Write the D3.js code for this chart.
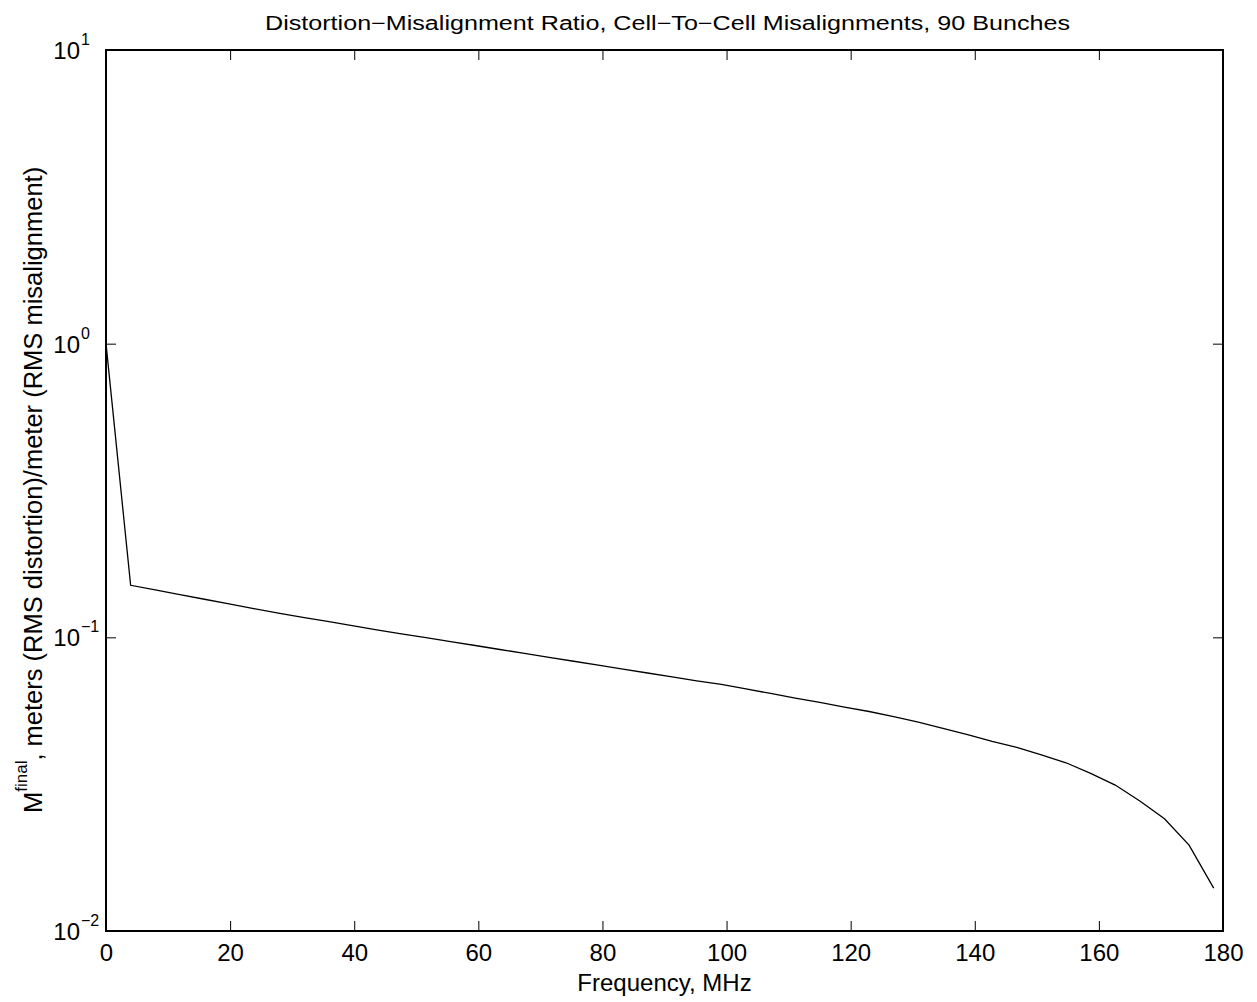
<!DOCTYPE html>
<html><head><meta charset="utf-8">
<script src="https://cdn.jsdelivr.net/npm/d3@7"></script>
<style>body{margin:0;background:#fff}svg{display:block}text{font-family:"Liberation Sans",Arial,sans-serif;fill:#000}</style>
</head><body>
<script>
const frequency = [0, 3.97, 7.93, 11.9, 15.87, 19.83, 23.8, 27.77, 31.73, 35.7, 39.67, 43.63, 47.6, 51.57, 55.53, 59.5, 63.47, 67.43, 71.4, 75.37, 79.33, 83.3, 87.27, 91.23, 95.2, 99.17, 103.13, 107.1, 111.07, 115.03, 119.0, 122.97, 126.93, 130.9, 134.87, 138.83, 142.8, 146.77, 150.73, 154.7, 158.67, 162.63, 166.6, 170.57, 174.53, 178.5];
const ratio = [1.0, 0.1504, 0.1450, 0.1398, 0.1348, 0.1299, 0.1253, 0.1209, 0.1170, 0.1133, 0.1097, 0.1061, 0.1027, 0.0997, 0.0967, 0.0938, 0.0909, 0.0882, 0.0855, 0.0829, 0.0804, 0.0779, 0.0756, 0.0733, 0.0711, 0.0691, 0.0667, 0.0644, 0.0621, 0.0600, 0.0579, 0.0559, 0.0537, 0.0514, 0.0490, 0.0466, 0.0442, 0.0422, 0.0398, 0.0374, 0.0344, 0.0314, 0.0277, 0.0241, 0.0196, 0.0140];
const xTicks = [0, 20, 40, 60, 80, 100, 120, 140, 160, 180];
const yTicks = [1e-2, 1e-1, 1, 10];
const yTickExp = ["\u22122", "\u22121", "0", "1"];
const titleText = "Distortion\u2212Misalignment Ratio, Cell\u2212To\u2212Cell Misalignments, 90 Bunches";
const xLabelText = "Frequency, MHz";

const W = 1257, H = 1002;
const L = 106, R = 1223, T = 50, B = 931;
const svg = d3.select("body").append("svg").attr("width", W).attr("height", H);
const x = d3.scaleLinear().domain([0, 180]).range([L, R]);
const y = d3.scaleLog().domain([1e-2, 10]).range([B, T]);

// data line
svg.append("path").datum(frequency.map((f, i) => [f, ratio[i]]))
  .attr("fill", "none").attr("stroke", "#000").attr("stroke-width", 1.3)
  .attr("d", d3.line().x(d => x(d[0])).y(d => y(d[1])));

const tl = 10;
const xb = svg.append("g").attr("transform", `translate(0,${B})`)
  .call(d3.axisBottom(x).tickValues(xTicks).tickSizeInner(-tl).tickSizeOuter(0));
const xt = svg.append("g").attr("transform", `translate(0,${T})`)
  .call(d3.axisTop(x).tickValues(xTicks).tickSizeInner(-tl).tickSizeOuter(0).tickFormat(""));
const yl = svg.append("g").attr("transform", `translate(${L},0)`)
  .call(d3.axisLeft(y).tickValues(yTicks).tickSizeInner(-tl).tickSizeOuter(0).tickFormat(""));
const yr = svg.append("g").attr("transform", `translate(${R},0)`)
  .call(d3.axisRight(y).tickValues(yTicks).tickSizeInner(-tl).tickSizeOuter(0).tickFormat(""));
[xb, xt, yl, yr].forEach(g => {
  g.select(".domain").remove();
  g.selectAll(".tick line").attr("stroke", "#000").attr("stroke-width", 1);
});
xb.selectAll(".tick text").attr("font-size", 24).attr("font-family", '"Liberation Sans",Arial,sans-serif')
  .attr("fill", "#000").attr("dy", null).attr("y", 30);

// y tick labels
yTicks.forEach((v, i) => {
  svg.append("text").attr("x", 80).attr("y", y(v) + 9).attr("text-anchor", "end")
    .attr("font-size", 24).text("10");
  svg.append("text").attr("x", 81).attr("y", y(v) - 5).attr("text-anchor", "start")
    .attr("font-size", 16).text(yTickExp[i]);
});

// frame
svg.append("rect").attr("x", L).attr("y", T).attr("width", R - L).attr("height", B - T)
  .attr("fill", "none").attr("stroke", "#000").attr("stroke-width", 2);

// title
svg.append("text").attr("x", 265).attr("y", 29.5).attr("text-anchor", "start")
  .attr("font-size", 20).attr("textLength", 805).attr("lengthAdjust", "spacingAndGlyphs").text(titleText);
// x label
svg.append("text").attr("x", (L + R) / 2).attr("y", 991).attr("text-anchor", "middle")
  .attr("font-size", 24).text(xLabelText);
// y label
const ylab = svg.append("text").attr("transform", "translate(42,813) rotate(-90)")
  .attr("text-anchor", "start").attr("font-size", 25.5);
ylab.append("tspan").text("M");
ylab.append("tspan").attr("font-size", 17).attr("dy", -15).text("final");
ylab.append("tspan").attr("dy", 15).text(", meters (RMS distortion)/meter (RMS misalignment)");
</script>
</body></html>
